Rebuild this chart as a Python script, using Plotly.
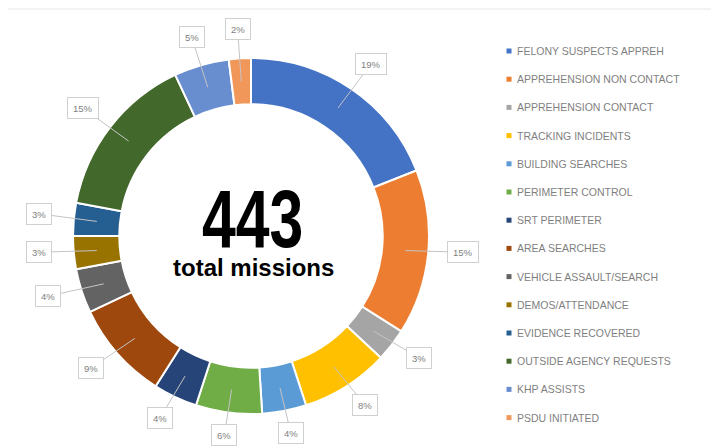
import math
import plotly.graph_objects as go

# ---------------- data ----------------
categories = [
    "FELONY SUSPECTS APPREH",
    "APPREHENSION NON CONTACT",
    "APPREHENSION CONTACT",
    "TRACKING INCIDENTS",
    "BUILDING SEARCHES",
    "PERIMETER CONTROL",
    "SRT PERIMETER",
    "AREA SEARCHES",
    "VEHICLE ASSAULT/SEARCH",
    "DEMOS/ATTENDANCE",
    "EVIDENCE RECOVERED",
    "OUTSIDE AGENCY REQUESTS",
    "KHP ASSISTS",
    "PSDU INITIATED",
]
percent_values = [19, 15, 3, 8, 4, 6, 4, 9, 4, 3, 3, 15, 5, 2]
total_missions = 443
center_title = str(total_missions)
center_subtitle = "total missions"

colors = [
    "#4472C4", "#ED7D31", "#A5A5A5", "#FFC000", "#5B9BD5", "#70AD47",
    "#264478", "#9E480E", "#636363", "#997300", "#255E91", "#43682B",
    "#698ED0", "#F1975A",
]

# ---------------- layout geometry (pixels) ----------------
W, H = 711, 447
CX, CY, R = 251, 236, 178
HOLE = 0.74
R_MID = R * (1 + HOLE) / 2
LAB_RX, LAB_RY, LAB_DY = 213, 204, -3


def px_x(x):
    return x / W


def px_y(y):
    return 1 - y / H


fig = go.Figure()
fig.add_trace(go.Pie(
    labels=categories,
    values=percent_values,
    hole=HOLE,
    sort=False,
    direction="clockwise",
    rotation=0,
    textinfo="none",
    marker=dict(colors=colors, line=dict(color="white", width=2)),
    domain=dict(x=[px_x(CX - R), px_x(CX + R)],
                y=[px_y(CY + R), px_y(CY - R)]),
    showlegend=False,
    hoverinfo="label+percent",
))

annotations = []
shapes = []

# percent labels with leader lines
tot = sum(percent_values)
cum = 0
for p in percent_values:
    mid = (cum + p / 2) / tot * 2 * math.pi
    cum += p
    sx, sy = math.sin(mid), -math.cos(mid)
    hx, hy = CX + R_MID * sx, CY + R_MID * sy
    lx, ly = CX + LAB_RX * sx, CY + LAB_DY + LAB_RY * sy
    annotations.append(dict(
        x=px_x(hx), y=px_y(hy), xref="paper", yref="paper",
        ax=lx - hx, ay=ly - hy, axref="pixel", ayref="pixel",
        text=f"{p}%", showarrow=True, arrowhead=0, arrowwidth=1,
        arrowcolor="#c4c4c4",
        font=dict(family="Liberation Sans, Arial", size=9.5, color="#7f7f7f"),
        height=10, bgcolor="white", bordercolor="#d0d0d0", borderwidth=1,
        borderpad=5,
    ))

# center text
annotations.append(dict(
    x=px_x(252), y=px_y(219), xref="paper", yref="paper", showarrow=False,
    text=f"<b>{center_title}</b>",
    font=dict(family="Liberation Sans, Arial", size=81, color="black"),
))
annotations.append(dict(
    x=px_x(253), y=px_y(267), xref="paper", yref="paper", showarrow=False,
    text=f"<b>{center_subtitle}</b>",
    font=dict(family="Liberation Sans, Arial", size=24, color="black"),
))

# custom legend
LEG_X, LEG_Y0, LEG_DY = 509, 51, 28.2
for i, (lab, col) in enumerate(zip(categories, colors)):
    yy = LEG_Y0 + i * LEG_DY
    shapes.append(dict(
        type="rect", xref="paper", yref="paper",
        x0=px_x(LEG_X - 2.5), x1=px_x(LEG_X + 2.5),
        y0=px_y(yy + 2.5), y1=px_y(yy - 2.5),
        fillcolor=col, line=dict(width=0),
    ))
    annotations.append(dict(
        x=px_x(LEG_X + 6), y=px_y(yy), xref="paper", yref="paper",
        xanchor="left", yanchor="middle", showarrow=False, text=lab,
        font=dict(family="Liberation Sans, Arial", size=10.5, color="#7f7f7f"),
    ))

# faint top border line
shapes.append(dict(type="line", xref="paper", yref="paper",
                   x0=px_x(8), x1=1, y0=px_y(9), y1=px_y(9),
                   line=dict(color="#e6e6e6", width=1)))

fig.update_layout(
    width=W, height=H,
    margin=dict(l=0, r=0, t=0, b=0),
    paper_bgcolor="white", plot_bgcolor="white",
    annotations=annotations, shapes=shapes,
    showlegend=False,
)

post_js = """
document.body.style.margin = '0';
document.querySelectorAll('text.annotation-text').forEach(function (t) {
  if (t.textContent.trim() === '%s') {
    var b = t.getBBox();
    var cx = b.x + b.width / 2;
    var old = t.getAttribute('transform') || '';
    t.setAttribute('transform', old + ' translate(' + cx + ',0) scale(0.75,1) translate(' + (-cx) + ',0)');
  }
});
""" % center_title

fig.write_html("out.html", post_script=post_js,
               config={"displayModeBar": False})
